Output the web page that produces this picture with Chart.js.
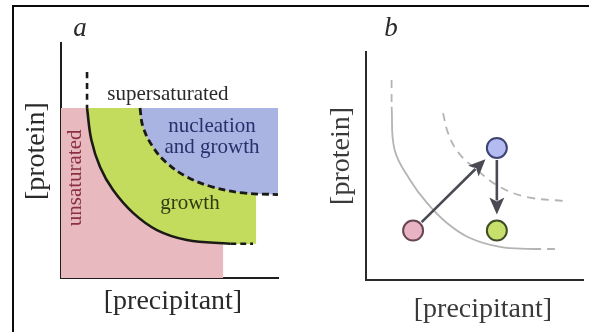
<!DOCTYPE html>
<html>
<head>
<meta charset="utf-8">
<script src="https://cdn.jsdelivr.net/npm/chart.js@4.4.1/dist/chart.umd.min.js"></script>
<style>
  html, body { margin: 0; padding: 0; background: #fff; }
  #page { position: relative; width: 589px; height: 332px; overflow: hidden; background: #fff; }
  #frame { position: absolute; left: 12px; top: 5px; right: -4px; bottom: -4px;
           border-left: 2px solid #0a0a0a; border-top: 2px solid #0a0a0a; }
  #wrapA { position: absolute; left: 0; top: 0; width: 300px; height: 332px; }
  #wrapB { position: absolute; left: 300px; top: 0; width: 289px; height: 332px; }
  canvas { display: block; }
</style>
</head>
<body>
<div id="page">
  <div id="frame"></div>
  <div id="wrapA"><canvas id="chartA" width="300" height="332"></canvas></div>
  <div id="wrapB"><canvas id="chartB" width="289" height="332"></canvas></div>
</div>
<script>
// ---- Panel a: crystallisation phase diagram (arbitrary units 0-100) ----
const regionTop = 72.3;          // upper edge of the shaded regions
const unsaturatedRight = 74.7;   // right edge of the unsaturated block
const growthRight = 89.9;        // right edge of the growth zone
const nucleationRight = 100;     // right edge of the nucleation zone

// solubility curve (solid) separating unsaturated / supersaturated
const solubilityA = [
  {x: 12.0, y: 72.3}, {x: 14.0, y: 58.7}, {x: 18.0, y: 47.2},
  {x: 24.0, y: 37.4}, {x: 33.2, y: 27.7}, {x: 44.2, y: 20.4}, {x: 58.0, y: 16.2},
  {x: 78.0, y: 14.6}
];
const solubilityTopA = [{x: 12.0, y: 87.7}, {x: 12.0, y: 72.3}];
const solubilityTailA = [{x: 78.0, y: 14.6}, {x: 88.5, y: 14.6}];

// nucleation boundary (dashed)
const nucleationA = [
  {x: 36.4, y: 72.3}, {x: 37.8, y: 64.3}, {x: 42.4, y: 55.7}, {x: 48.8, y: 48.9},
  {x: 58.1, y: 43.0}, {x: 70.0, y: 38.7}, {x: 83.9, y: 36.2}, {x: 100, y: 35.5}
];

// ---- Panel b: experiment path ----
const solubilityB = [
  {x: 11.8, y: 76.0}, {x: 13.2, y: 57.0}, {x: 20.3, y: 43.9},
  {x: 28.1, y: 33.8}, {x: 37.3, y: 25.0}, {x: 47.9, y: 18.4}, {x: 61.8, y: 14.5},
  {x: 77.0, y: 13.6}
];
const solubilityTopB = [{x: 11.8, y: 87.7}, {x: 11.8, y: 76.0}];
const solubilityTailB = [{x: 77.0, y: 13.6}, {x: 89.4, y: 13.6}];
const nucleationB = [
  {x: 35.5, y: 73.2}, {x: 37.8, y: 64.5}, {x: 42.4, y: 56.1}, {x: 51.2, y: 48.2},
  {x: 61.8, y: 40.8}, {x: 74.2, y: 36.4}, {x: 91.7, y: 34.6}
];
// drop conditions: start, after nucleation, after growth
const conditionNames = ['start', 'nucleation', 'growth'];
const conditions = [{x: 21.7, y: 21.7}, {x: 60.3, y: 57.9}, {x: 60.3, y: 21.7}];
const conditionSteps = [[0, 1], [1, 2]];

// ---- closed outlines for the shaded zones (corners doubled to stay sharp) ----
const corner = p => [p, {x: p.x, y: p.y}];
const unsaturatedZone = [
  {x: 0, y: 0}, {x: unsaturatedRight, y: 0}, {x: unsaturatedRight, y: regionTop}, {x: 0, y: regionTop}
];
const growthZone = [
  ...solubilityA,
  ...corner({x: growthRight, y: solubilityA[solubilityA.length - 1].y}),
  ...corner({x: growthRight, y: regionTop})
];
const nucleationZone = [
  ...corner(nucleationA[0]),
  ...nucleationA.slice(1, -1),
  ...corner(nucleationA[nucleationA.length - 1]),
  ...corner({x: nucleationRight, y: regionTop})
];

const SERIF = '"Liberation Serif", "DejaVu Serif", serif';

// arrows between conditions + free text labels, placed through the scales
const annotate = {
  id: 'annotate',
  beforeDatasetDraw(chart, args, opts) {
    const ds = chart.data.datasets[args.index];
    if (!opts.arrows || ds.label !== 'conditions') return;
    const {ctx, scales: {x, y}} = chart;
    const r = ds.pointRadius + ds.pointBorderWidth / 2;
    ctx.save();
    opts.arrows.forEach(([from, to]) => {
      const a = ds.data[from], b = ds.data[to];
      const x1 = x.getPixelForValue(a.x), y1 = y.getPixelForValue(a.y);
      const x2 = x.getPixelForValue(b.x), y2 = y.getPixelForValue(b.y);
      const ang = Math.atan2(y2 - y1, x2 - x1);
      const c = Math.cos(ang), s = Math.sin(ang);
      const sx = x1 + c * (r + 1), sy = y1 + s * (r + 1);
      const tx = x2 - c * (r + 5), ty = y2 - s * (r + 5);
      const hl = 17, hw = 7.5;
      const bx = tx - c * hl, by = ty - s * hl;
      ctx.strokeStyle = opts.arrowColor;
      ctx.fillStyle = opts.arrowColor;
      ctx.lineWidth = 2.6;
      ctx.beginPath(); ctx.moveTo(sx, sy); ctx.lineTo(bx + c * 3, by + s * 3); ctx.stroke();
      ctx.beginPath();
      ctx.moveTo(tx, ty);
      ctx.lineTo(bx - s * hw, by + c * hw);
      ctx.lineTo(bx + c * 4, by + s * 4);
      ctx.lineTo(bx + s * hw, by - c * hw);
      ctx.closePath();
      ctx.fill();
    });
    ctx.restore();
  },
  afterDatasetsDraw(chart, args, opts) {
    const {ctx, scales: {x, y}} = chart;
    (opts.labels || []).forEach(l => {
      ctx.save();
      ctx.translate(x.getPixelForValue(l.x), y.getPixelForValue(l.y));
      if (l.rotate) ctx.rotate(l.rotate);
      ctx.font = l.font;
      ctx.fillStyle = l.color;
      ctx.textAlign = 'center';
      ctx.textBaseline = 'middle';
      ctx.fillText(l.text, 0, 0);
      ctx.restore();
    });
  }
};

function axisScale(color) {
  return {
    type: 'linear', min: 0, max: 100, display: true,
    grid: {display: false, drawTicks: false},
    ticks: {display: false},
    border: {display: true, color: color, width: 2},
    afterFit: s => { if (s.isHorizontal()) s.height = 0; else s.width = 0; }
  };
}

// back-to-front list; order is assigned so later entries draw on top
function layered(list) {
  return list.map((d, i) => Object.assign({order: list.length - i}, d));
}
function fillZone(label, data, color, tension) {
  return {label, data, showLine: true, fill: 'shape', backgroundColor: color,
          borderColor: 'transparent', borderWidth: 0, pointRadius: 0, tension};
}
function curve(label, data, color, width, dash) {
  return {label, data, showLine: true, fill: false, borderColor: color, borderWidth: width,
          borderDash: dash || [], pointRadius: 0, tension: 0.4, borderCapStyle: 'butt'};
}

const common = {
  responsive: false,
  animation: false,
  events: [],
  plugins: {legend: {display: false}, tooltip: {enabled: false}},
};

new Chart(document.getElementById('chartA'), {
  type: 'scatter',
  data: {
    datasets: layered([
      fillZone('unsaturated', unsaturatedZone, '#e8b9bf', 0),
      fillZone('growth', growthZone, '#c3dc5e', 0.4),
      fillZone('nucleation and growth', nucleationZone, '#aab4e3', 0.4),
      curve('solubility', solubilityA, '#1c1a16', 2.6),
      curve('solubility top', solubilityTopA, '#1c1a16', 2.6, [6, 5]),
      curve('solubility tail', solubilityTailA, '#1c1a16', 2.6, [6, 4]),
      curve('nucleation boundary', nucleationA, '#1c1a16', 2.8, [7, 4])
    ])
  },
  options: Object.assign({}, common, {
    layout: {autoPadding: false, padding: {left: 61, right: 22, top: 43, bottom: 54}},
    scales: {x: axisScale('#1e1e1e'), y: axisScale('#1e1e1e')},
    plugins: Object.assign({}, common.plugins, {
      annotate: {
        labels: [
          {text: 'a', x: 8.8, y: 106, font: 'italic 27px ' + SERIF, color: '#2a2a2a'},
          {text: 'supersaturated', x: 49.3, y: 77.9, font: '21px ' + SERIF, color: '#2a2a2a'},
          {text: 'nucleation', x: 69.6, y: 64.3, font: '21px ' + SERIF, color: '#27306a'},
          {text: 'and growth', x: 69.6, y: 55.7, font: '21px ' + SERIF, color: '#27306a'},
          {text: 'growth', x: 59.4, y: 31.9, font: '21px ' + SERIF, color: '#2f3a12'},
          {text: 'unsaturated', x: 6.9, y: 42.6, rotate: -Math.PI / 2, font: '21px ' + SERIF, color: '#8a3040'},
          {text: '[protein]', x: -11.1, y: 54, rotate: -Math.PI / 2, font: '28px ' + SERIF, color: '#2a2a2a'},
          {text: '[precipitant]', x: 51.6, y: -10.2, font: '28px ' + SERIF, color: '#2a2a2a'}
        ]
      }
    })
  }),
  plugins: [annotate]
});

new Chart(document.getElementById('chartB'), {
  type: 'scatter',
  data: {
    datasets: layered([
      curve('solubility', solubilityB, '#b4b4b4', 1.8),
      curve('solubility top', solubilityTopB, '#b4b4b4', 1.8, [8, 6]),
      curve('solubility tail', solubilityTailB, '#b4b4b4', 1.8, [8, 6]),
      curve('nucleation boundary', nucleationB, '#b4b4b4', 1.8, [8, 6]),
      {label: 'conditions', data: conditions, showLine: false,
       pointRadius: 10, pointBorderWidth: 2, pointHoverRadius: 10,
       pointBackgroundColor: ['#e8b3c2', '#b3bbf0', '#c7e06c'],
       pointBorderColor: ['#6a4552', '#3d4372', '#3e4c28']}
    ])
  },
  options: Object.assign({}, common, {
    layout: {autoPadding: false, padding: {left: 66, right: 6, top: 52, bottom: 52}},
    scales: {x: axisScale('#2a2a2a'), y: axisScale('#2a2a2a')},
    plugins: Object.assign({}, common.plugins, {
      annotate: {
        arrows: conditionSteps,
        arrowColor: '#4a4b52',
        labels: [
          {text: 'b', x: 11.5, y: 110, font: 'italic 27px ' + SERIF, color: '#2a2a2a'},
          {text: '[protein]', x: -11.1, y: 54.4, rotate: -Math.PI / 2, font: '28px ' + SERIF, color: '#3a3a3a'},
          {text: '[precipitant]', x: 53.9, y: -13.2, font: '28px ' + SERIF, color: '#3a3a3a'}
        ]
      }
    })
  }),
  plugins: [annotate]
});
</script>
</body>
</html>
